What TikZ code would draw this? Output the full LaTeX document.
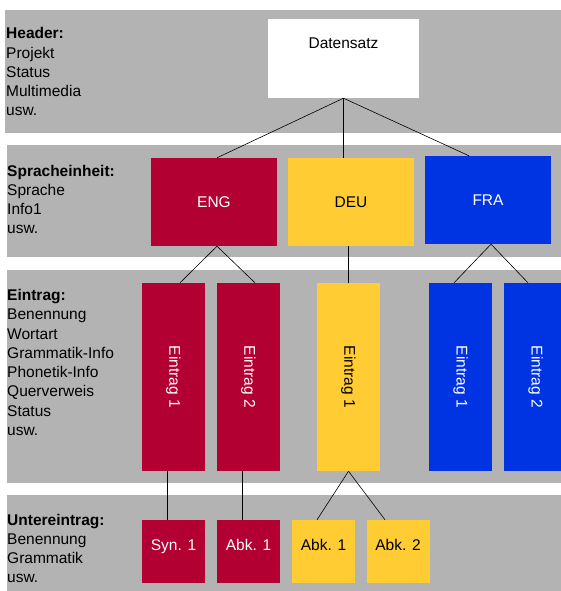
\documentclass[tikz,border=0pt]{standalone}
\usepackage{fontspec}
\setmainfont{Liberation Sans}
\usepackage{graphicx}

\definecolor{engred}{RGB}{178,0,50}
\definecolor{deuyellow}{RGB}{255,204,51}
\definecolor{frablue}{RGB}{0,51,225}
\definecolor{bandgray}{RGB}{179,179,179}

\begin{document}
\begin{tikzpicture}[x=1pt, y=-1pt,
        every node/.style={font=\fontsize{15.5}{19.25}\selectfont, inner sep=0pt},
        lang/.style={minimum width=126pt, minimum height=88pt},
        entry/.style={minimum width=63pt, minimum height=188pt},
        sub/.style={minimum width=63pt, text height=30pt, text depth=33pt},
        legend/.style={anchor=base west, align=left},
        link/.style={line width=0.6pt}]
        \useasboundingbox (0, 0) rectangle (561, 591);

        % bands
        \fill[bandgray] (5, 10) rectangle (561, 133);
        \fill[bandgray] (7, 145) rectangle (561, 257);
        \fill[bandgray] (7, 270) rectangle (561, 483);
        \fill[bandgray] (7, 495) rectangle (561, 591);

        % legends (base = last line)
        \node[legend] at (6, 116)    (header)  {\textbf{Header:}\\Projekt\\Status\\Multimedia\\usw.};
        \node[legend] at (7, 233.75) (sprache) {\textbf{Spracheinheit:}\\Sprache\\Info1\\usw.};
        \node[legend] at (7, 435.25) (eintrag) {\textbf{Eintrag:}\\Benennung\\Wortart\\Grammatik-Info\\Phonetik-Info\\Querverweis\\Status\\usw.};
        \node[legend] at (7, 582.75) (unter)   {\textbf{Untereintrag:}\\Benennung\\Grammatik\\usw.};

        \node[fill=white, minimum width=151pt, text height=30pt, text depth=49pt] at (343.5, 58.5) (datensatz) {Datensatz};

        \node[lang, fill=engred, text=white] at (214, 202) (eng) {ENG};
        \node[lang, fill=deuyellow]          at (351, 202) (deu) {DEU};
        \node[lang, fill=frablue, text=white] at (488, 200) (fra) {FRA};

        \node[entry, fill=engred, text=white]  at (173.5, 377) (engeintrag1) {\rotatebox{-90}{Eintrag 1}};
        \node[entry, fill=engred, text=white]  at (248.5, 377) (engeintrag2) {\rotatebox{-90}{Eintrag 2}};
        \node[entry, fill=deuyellow]           at (348.5, 377) (deueintrag1) {\rotatebox{-90}{Eintrag 1}};
        \node[entry, fill=frablue, text=white] at (460.5, 377) (fraeintrag1) {\rotatebox{-90}{Eintrag 1}};
        \node[entry, fill=frablue, text=white] at (535.5, 377) (fraeintrag2) {\rotatebox{-90}{Eintrag 2}};

        \node[sub, fill=engred, text=white] at (173.5, 551.5) (engsyn1) {Syn. 1};
        \node[sub, fill=engred, text=white] at (248.5, 551.5) (engabk1) {Abk. 1};
        \node[sub, fill=deuyellow]          at (323.5, 551.5) (deuabk1) {Abk. 1};
        \node[sub, fill=deuyellow]          at (398, 551.5)   (deuabk2) {Abk. 2};

        \draw[link] (datensatz.south) -- ([xshift=3pt]eng.north);
        \draw[link] (datensatz.south) -- (datensatz.south |- deu.north);
        \draw[link] (datensatz.south) -- ([xshift=-19pt]fra.north);

        \draw[link] ([xshift=3pt]eng.south) -- ([xshift=6.5pt]engeintrag1.north);
        \draw[link] ([xshift=3pt]eng.south) -- ([xshift=6.5pt]engeintrag2.north);
        \draw[link] (deueintrag1.north |- deu.south) -- (deueintrag1.north);
        \draw[link] ([xshift=3pt]fra.south) -- ([xshift=-6.5pt]fraeintrag1.north);
        \draw[link] ([xshift=3pt]fra.south) -- ([xshift=-7.5pt]fraeintrag2.north);

        \draw[link] ([xshift=-6.5pt]engeintrag1.south) -- ([xshift=-6.5pt]engsyn1.north);
        \draw[link] ([xshift=-6.5pt]engeintrag2.south) -- ([xshift=-6.5pt]engabk1.north);
        \draw[link] (deueintrag1.south) -- ([xshift=-6.5pt]deuabk1.north);
        \draw[link] (deueintrag1.south) -- ([xshift=-13pt]deuabk2.north);
    \end{tikzpicture}
\end{document}
